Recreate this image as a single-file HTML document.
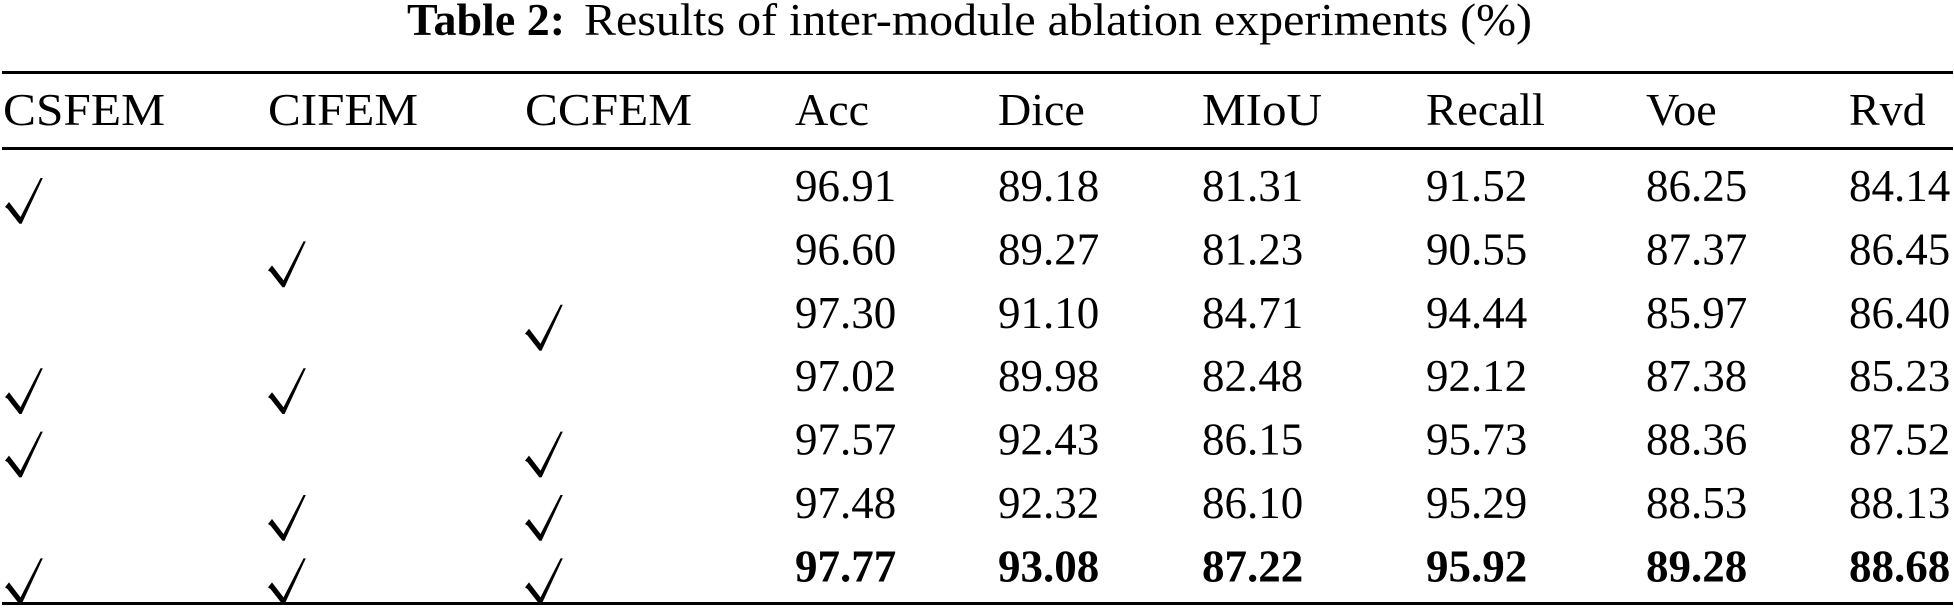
<!DOCTYPE html>
<html>
<head>
<meta charset="utf-8">
<style>
  html, body { margin: 0; padding: 0; background: #ffffff; }
  body { width: 1954px; height: 612px; overflow: hidden; position: relative; }
  svg { position: absolute; left: 0; top: 0; }
  text { font-family: "Liberation Serif", "Times New Roman", serif; fill: #000; }
  .h { font-size: 46px; }
  .n { font-size: 45px; }
  .b { font-weight: bold; }
</style>
</head>
<body>
<svg width="1954" height="612" viewBox="0 0 1954 612" xmlns="http://www.w3.org/2000/svg">
  <defs>
    <polygon id="ck" points="0,29 4,24 15.5,39 35.5,0 37.8,0 16.6,45.8 14.4,45.8 2.5,30.6" fill="#000"/>
  </defs>

  <!-- Title -->
  <text x="407" y="35" class="h b">Table 2:</text>
  <text x="584" y="35" class="h" textLength="948" lengthAdjust="spacingAndGlyphs">Results of inter-module ablation experiments (%)</text>

  <!-- Rules -->
  <rect x="2" y="71" width="1951" height="3" fill="#000"/>
  <rect x="2" y="147" width="1951" height="3" fill="#000"/>
  <rect x="2" y="602" width="1951" height="3" fill="#000"/>

  <!-- Header -->
  <text x="3" y="125" class="h" textLength="162" lengthAdjust="spacingAndGlyphs">CSFEM</text>
  <text x="268" y="125" class="h" textLength="150" lengthAdjust="spacingAndGlyphs">CIFEM</text>
  <text x="525" y="125" class="h" textLength="167" lengthAdjust="spacingAndGlyphs">CCFEM</text>
  <text x="795" y="125" class="h">Acc</text>
  <text x="998" y="125" class="h">Dice</text>
  <text x="1202" y="125" class="h" textLength="120" lengthAdjust="spacingAndGlyphs">MIoU</text>
  <text x="1426" y="125" class="h" textLength="119" lengthAdjust="spacingAndGlyphs">Recall</text>
  <text x="1646" y="125" class="h">Voe</text>
  <text x="1849" y="125" class="h">Rvd</text>

  <!-- Check marks -->
  <use href="#ck" x="5" y="178"/>
  <use href="#ck" x="268" y="241.4"/>
  <use href="#ck" x="525" y="304.8"/>
  <use href="#ck" x="5" y="368.2"/>
  <use href="#ck" x="268" y="368.2"/>
  <use href="#ck" x="5" y="431.6"/>
  <use href="#ck" x="525" y="431.6"/>
  <use href="#ck" x="268" y="495"/>
  <use href="#ck" x="525" y="495"/>
  <use href="#ck" x="5" y="558.4"/>
  <use href="#ck" x="268" y="558.4"/>
  <use href="#ck" x="525" y="558.4"/>

  <!-- Data rows -->
  <g class="n">
    <text x="795" y="201">96.91</text>
    <text x="998" y="201">89.18</text>
    <text x="1202" y="201">81.31</text>
    <text x="1426" y="201">91.52</text>
    <text x="1646" y="201">86.25</text>
    <text x="1849" y="201">84.14</text>

    <text x="795" y="264.4">96.60</text>
    <text x="998" y="264.4">89.27</text>
    <text x="1202" y="264.4">81.23</text>
    <text x="1426" y="264.4">90.55</text>
    <text x="1646" y="264.4">87.37</text>
    <text x="1849" y="264.4">86.45</text>

    <text x="795" y="327.8">97.30</text>
    <text x="998" y="327.8">91.10</text>
    <text x="1202" y="327.8">84.71</text>
    <text x="1426" y="327.8">94.44</text>
    <text x="1646" y="327.8">85.97</text>
    <text x="1849" y="327.8">86.40</text>

    <text x="795" y="391.2">97.02</text>
    <text x="998" y="391.2">89.98</text>
    <text x="1202" y="391.2">82.48</text>
    <text x="1426" y="391.2">92.12</text>
    <text x="1646" y="391.2">87.38</text>
    <text x="1849" y="391.2">85.23</text>

    <text x="795" y="454.6">97.57</text>
    <text x="998" y="454.6">92.43</text>
    <text x="1202" y="454.6">86.15</text>
    <text x="1426" y="454.6">95.73</text>
    <text x="1646" y="454.6">88.36</text>
    <text x="1849" y="454.6">87.52</text>

    <text x="795" y="518">97.48</text>
    <text x="998" y="518">92.32</text>
    <text x="1202" y="518">86.10</text>
    <text x="1426" y="518">95.29</text>
    <text x="1646" y="518">88.53</text>
    <text x="1849" y="518">88.13</text>
  </g>
  <g class="n b">
    <text x="795" y="581.4">97.77</text>
    <text x="998" y="581.4">93.08</text>
    <text x="1202" y="581.4">87.22</text>
    <text x="1426" y="581.4">95.92</text>
    <text x="1646" y="581.4">89.28</text>
    <text x="1849" y="581.4">88.68</text>
  </g>
</svg>
</body>
</html>
